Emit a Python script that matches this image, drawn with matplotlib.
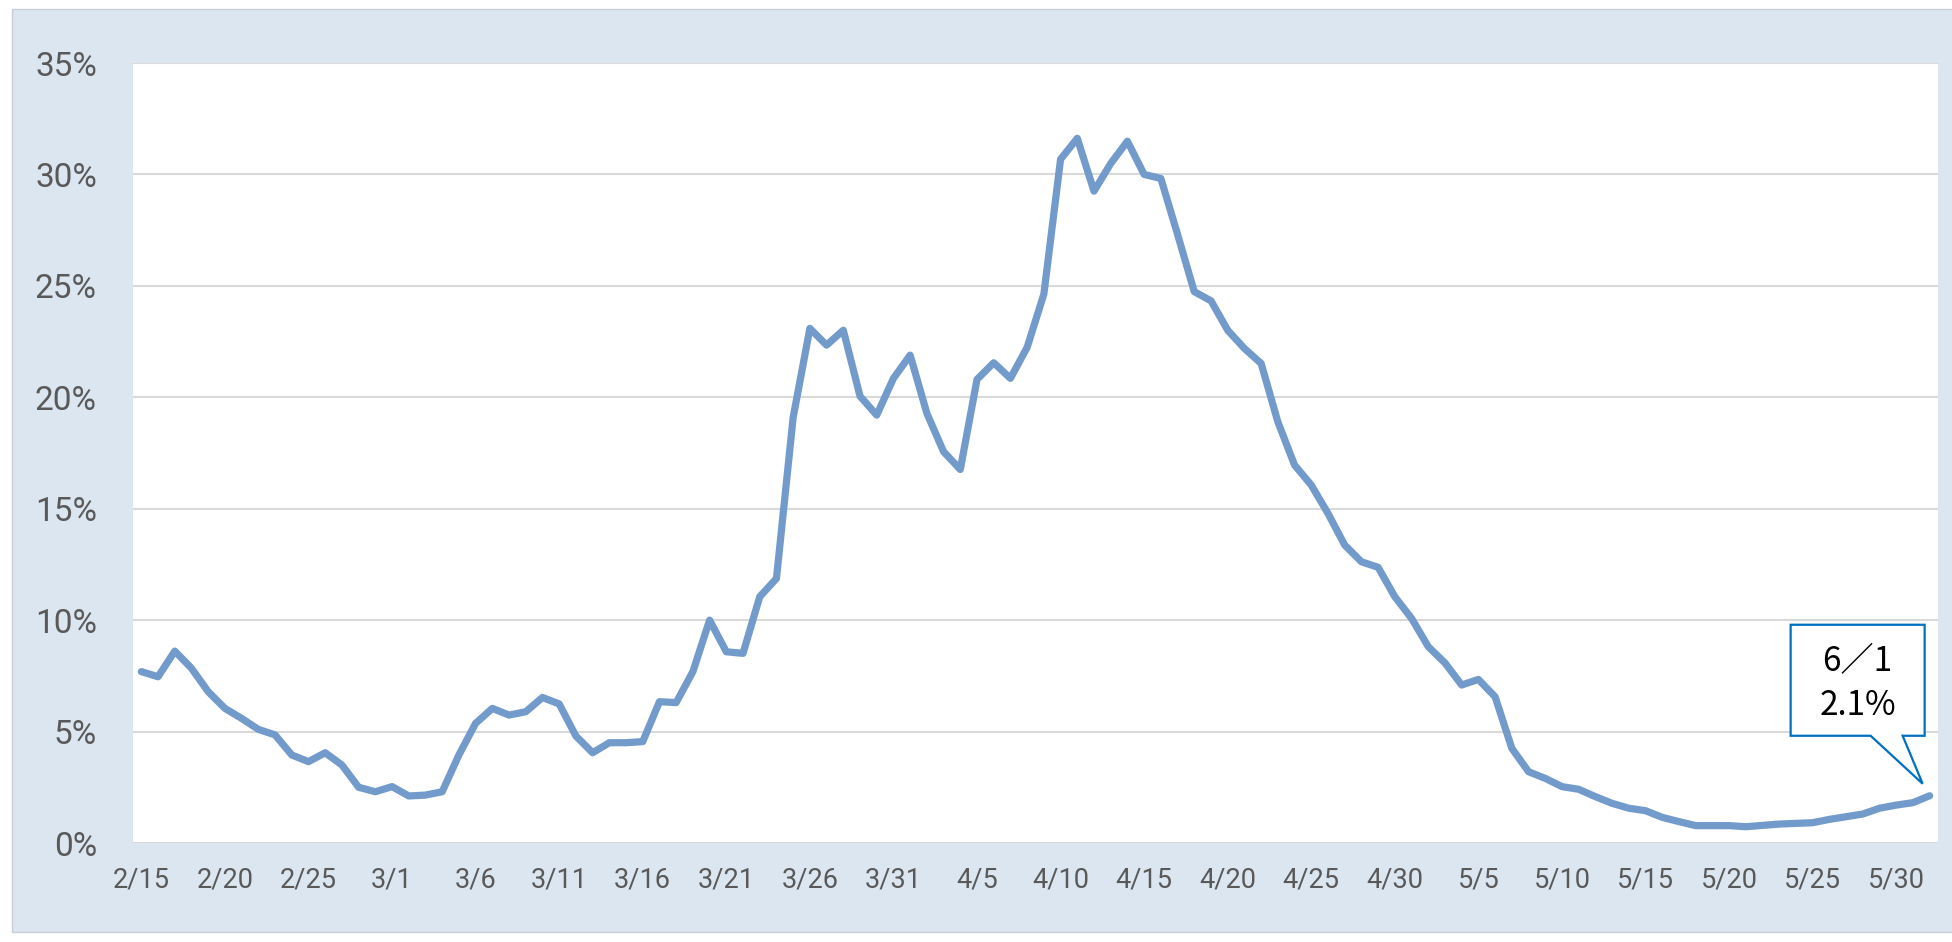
import datetime as dt
import matplotlib
matplotlib.use("Agg")
import matplotlib.pyplot as plt
from matplotlib.patches import Rectangle, Polygon
from matplotlib.ticker import FuncFormatter

# daily share (%) from 2/15 to 6/1
values = [
    7.69, 7.46, 8.61, 7.84, 6.79, 6.04, 5.59, 5.10, 4.85, 3.95,
    3.65, 4.05, 3.50, 2.50, 2.30, 2.53, 2.11, 2.15, 2.30, 3.95,
    5.37, 6.04, 5.74, 5.89, 6.53, 6.24, 4.80, 4.05, 4.50, 4.50,
    4.55, 6.34, 6.30, 7.69, 10.0, 8.58, 8.51, 11.05, 11.87, 19.1,
    23.09, 22.34, 23.01, 20.05, 19.20, 20.85, 21.89, 19.28, 17.56, 16.76,
    20.80, 21.55, 20.85, 22.24, 24.63, 30.68, 31.62, 29.25, 30.49, 31.49,
    30.0, 29.82, 27.31, 24.74, 24.33, 23.01, 22.19, 21.52, 18.90, 16.96,
    16.06, 14.79, 13.37, 12.62, 12.37, 11.05, 10.08, 8.81, 8.08, 7.09,
    7.34, 6.56, 4.25, 3.20, 2.90, 2.53, 2.41, 2.08, 1.78, 1.56,
    1.45, 1.15, 0.96, 0.78, 0.78, 0.78, 0.73, 0.79, 0.85, 0.88,
    0.91, 1.06, 1.18, 1.30, 1.56, 1.70, 1.81, 2.12,
]
start = dt.date(2020, 2, 15)
dates = [start + dt.timedelta(days=i) for i in range(len(values))]
labels = [f"{d.month}/{d.day}" for d in dates]
y_ticks = [0, 5, 10, 15, 20, 25, 30, 35]
callout_lines = ["6／1", "2.1%"]

W, H = 1952, 942
fig = plt.figure(figsize=(W / 100, H / 100), dpi=100, facecolor="white")

# light blue chart area (behind the axes)
bg = Rectangle((12 / W, 1 - 932 / H), 1, (932 - 9) / H,
               transform=fig.transFigure, facecolor="#dce6f1",
               edgecolor="#c9ced6", lw=1, zorder=-10)
fig.patches.append(bg)

ax = fig.add_axes([133 / W, 1 - 843 / H, (1938 - 133) / W, (843 - 63) / H])
ax.set_zorder(1)
ax.set_facecolor("white")

x = list(range(len(values)))
ax.plot(x, values, color="#729bcc", lw=5.2, solid_joinstyle="round",
        solid_capstyle="round", zorder=3)

ax.set_xlim(-0.5, len(values) - 0.5)
ax.set_ylim(0, 35)
ax.set_yticks(y_ticks)
ax.yaxis.set_major_formatter(FuncFormatter(lambda v, p: f"{v:.0f}%"))
ax.set_xticks(x[::5])
ax.set_xticklabels(labels[::5])

for s in ax.spines.values():
    s.set_visible(False)
ax.grid(axis="y", color="#d9d9d9", lw=1.5, zorder=1)
ax.tick_params(axis="y", length=0, pad=26, labelsize=24, labelcolor="#595959")
ax.tick_params(axis="x", length=0, pad=17, labelsize=19.5, labelcolor="#595959")
for t in ax.get_xticklabels() + ax.get_yticklabels():
    t.set_fontfamily("Roboto")

# callout for the last value
px, py = ax.transData.transform((x[-1], values[-1]))
shape = [(-139, 60), (-59, 60), (-7, 12), (-27, 60), (-5, 60), (-5, 171), (-139, 171)]
call = Polygon([(px + dx, py + dy) for dx, dy in shape], closed=True,
               transform=None, facecolor="white", edgecolor="#0070c0",
               lw=1.6, zorder=5)
ax.add_artist(call)
call.set_clip_on(False)
for txt, dy in zip(callout_lines, [134, 90]):
    fig.text((px - 72) / W, (py + dy) / H, txt, ha="center", va="center",
             fontsize=24, color="black",
             family=["Noto Sans CJK JP", "DejaVu Sans"], zorder=6)

fig.savefig("out.png", dpi=100, facecolor="white")
